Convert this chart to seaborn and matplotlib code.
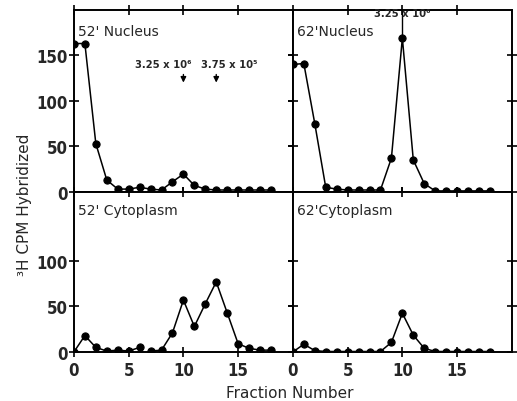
import numpy as np
import pandas as pd
import matplotlib
matplotlib.use("Agg")
import matplotlib.pyplot as plt
import seaborn as sns

# Fractions 0..18 for every gradient
fractions = list(range(19))

nuc_52 = [163, 163, 53, 13, 3, 3, 5, 3, 2, 11, 19.5, 7, 3, 2, 2, 2, 2, 2, 2]
nuc_62 = [140, 141, 75, 5, 3, 2, 2, 2, 2, 37, 169, 35, 9, 1, 1, 1, 1, 1, 1]
cyt_52 = [0, 18, 5, 1, 2, 1, 5, 1, 2, 21, 57, 28, 53, 77, 43, 9, 4, 2, 2]
cyt_62 = [0, 8.5, 1.5, 0.5, 0.5, 0.5, 0.5, 0.5, 0.5, 10.5, 42.5, 18.5, 4, 0.5, 0.5, 0.5, 0.5, 0.5, 0.5]

panel_titles = ["52' Nucleus", "62'Nucleus", "52' Cytoplasm", "62'Cytoplasm"]
panel_data = [nuc_52, nuc_62, cyt_52, cyt_62]
# 52' cytoplasm curve is broken between fraction 6 and 7
cyt_52_break = 7

sns.set_theme(style="white")
plt.rcParams['font.family'] = ['DejaVu Sans']
tick_font = dict(family='DejaVu Sans', stretch='condensed', weight='bold', size=12)

fig, axes = plt.subplots(2, 2, figsize=(5.17, 4.02), dpi=100, sharex=True, sharey='row',
                         gridspec_kw=dict(height_ratios=[200, 176], hspace=0, wspace=0))
fig.subplots_adjust(left=0.143, right=0.990, top=0.973, bottom=0.122)

for ax, title, vals in zip(axes.flat, panel_titles, panel_data):
    df = pd.DataFrame({'fraction': fractions, 'cpm': vals})
    if vals is cyt_52:
        parts = [df.iloc[:cyt_52_break], df.iloc[cyt_52_break:]]
    else:
        parts = [df]
    for part in parts:
        sns.lineplot(data=part, x='fraction', y='cpm', ax=ax, color='black', lw=1.1,
                     marker='o', markersize=5.2, markeredgecolor='black', legend=False)
    ax.text(0.02, 0.885, title, transform=ax.transAxes, fontsize=10, va='center', ha='left')
    ax.set_xlim(0, 20)
    ax.set_xlabel('')
    ax.set_ylabel('')
    for s in ax.spines.values():
        s.set_color('black')
        s.set_linewidth(1.4)
    ax.tick_params(axis='both', which='both', direction='inout', length=7, width=1.2,
                   top=True, right=True, left=True, bottom=True, color='black', pad=1)

axes[0, 0].set_ylim(0, 200)
axes[1, 0].set_ylim(0, 176)
axes[0, 0].set_yticks([0, 50, 100, 150])
axes[1, 0].set_yticks([0, 50, 100])
axes[1, 0].set_xticks([0, 5, 10, 15])

for ax in axes[:, 0]:
    for lab in ax.get_yticklabels():
        lab.set(**tick_font)
for ax in axes[:, 1]:
    ax.tick_params(labelleft=False)
for ax in axes[1, :]:
    ax.tick_params(axis='x', pad=3)
    for lab in ax.get_xticklabels():
        lab.set(**tick_font)

# size markers
ann_font = dict(family='DejaVu Sans', stretch='condensed', weight='bold', size=8)
ax = axes[0, 0]
ax.text(8.2, 141, "3.25 x 10\u2076", ha='center', va='center', **ann_font)
ax.text(14.2, 141, "3.75 x 10\u2075", ha='center', va='center', **ann_font)
for xpos in [10, 13]:
    ax.annotate('', xy=(xpos, 117), xytext=(xpos, 132),
                arrowprops=dict(arrowstyle='-|>', color='black', lw=1, mutation_scale=8))
ax = axes[0, 1]
ax.plot([10, 10], [172, 200], color='black', lw=1)
ax.text(10, 197, "3.25 x 10\u2076", ha='center', va='center', **ann_font)

fig.text(0.048, 0.49, "\u00b3H CPM Hybridized", rotation=90, ha='center', va='center', fontsize=11)
fig.text(0.56, 0.022, "Fraction Number", ha='center', va='center', fontsize=11)

fig.savefig("out.png", dpi=100)
